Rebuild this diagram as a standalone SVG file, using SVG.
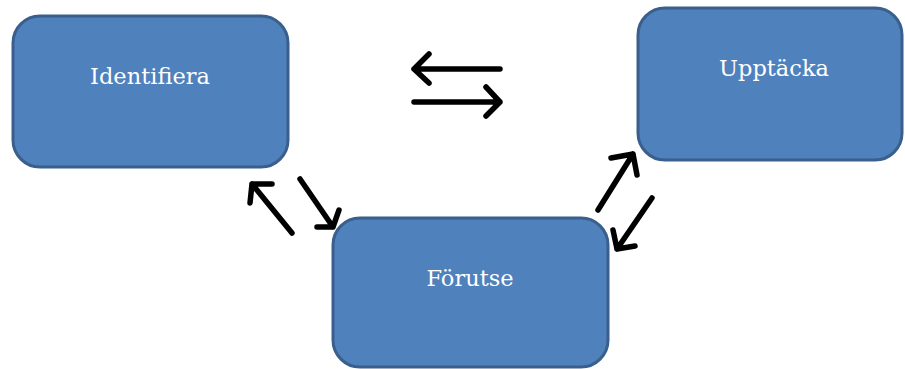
<svg xmlns="http://www.w3.org/2000/svg" width="905" height="369" viewBox="0 0 905 369">
<style>
.box{fill:#4F81BD;stroke:#3A5F8C;stroke-width:3}
.lbl{font-family:"DejaVu Serif","Liberation Serif",serif;font-size:22.5px;fill:#ffffff;text-anchor:middle}
.arr{fill:none;stroke:#000000;stroke-width:5.5;stroke-linecap:round;stroke-linejoin:round}
</style>
<g id="identifiera">
<rect class="box" x="13" y="16" width="275" height="151" rx="27"/>
<text class="lbl" x="150" y="84">Identifiera</text>
</g>
<g id="upptacka">
<rect class="box" x="638" y="8" width="264" height="152" rx="27"/>
<text class="lbl" x="774" y="76">Upptäcka</text>
</g>
<g id="forutse">
<rect class="box" x="333" y="218" width="275" height="149" rx="27"/>
<text class="lbl" x="470" y="286">Förutse</text>
</g>
<g id="connectors">
<path class="arr" d="M500 69 L414 69 M429 54 L414 69 L429 83"/>
<path class="arr" d="M414 102 L500 102 M486 87 L500 102 L486 116"/>
<path class="arr" d="M292 233 L252 184 M272 184 L252 184 L250 203"/>
<path class="arr" d="M300 179 L333 227 M339 210 L333 227 L317 227"/>
<path class="arr" d="M598 210 L633 154 M611 158 L633 154 L637 175"/>
<path class="arr" d="M652 198 L617 249 M613 230 L617 249 L635 246"/>
</g>
</svg>
